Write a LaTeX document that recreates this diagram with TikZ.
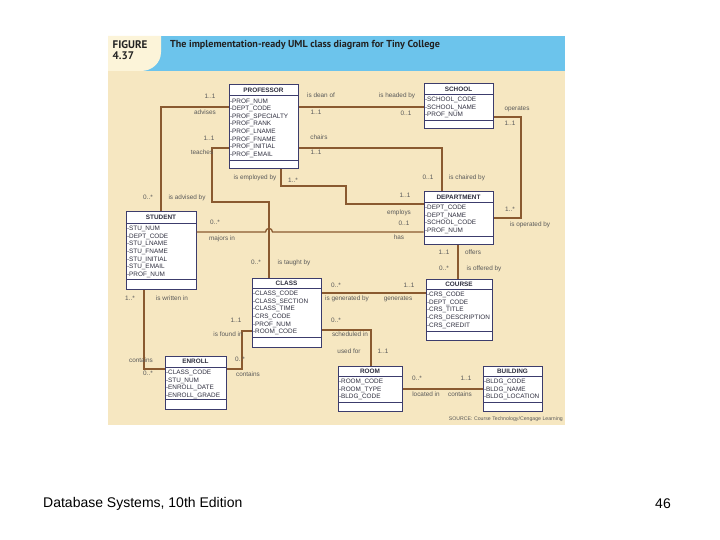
\documentclass[tikz,border=0pt]{standalone}
\usepackage{fontspec}
\setmainfont{Liberation Sans}
\newfontfamily\headfont{PT Sans}
\usetikzlibrary{fit}
\definecolor{bgbeige}{HTML}{F6E7C1}
\definecolor{hdblue}{HTML}{6CC4EC}
\definecolor{hdcream}{HTML}{FCF4D9}
\definecolor{connbrown}{HTML}{8A5A30}
\definecolor{boxnavy}{HTML}{3C3C6C}
\definecolor{attrtext}{HTML}{2E2E3E}
\definecolor{labtext}{HTML}{5A5A5A}
\definecolor{headtext}{HTML}{222222}
\tikzset{
  classbox/.style={draw=boxnavy, line width=1pt, fill=white, inner sep=0pt},
  boxrule/.style={draw=boxnavy, line width=0.9pt},
  classtitle/.style={font=\fontsize{6.4}{7}\selectfont\bfseries, text=attrtext, inner sep=0pt},
  classattr/.style={font=\fontsize{6.4}{7.6}\selectfont, text=attrtext, inner sep=0pt, anchor=base west},
  conn/.style={draw=connbrown, line width=1.3pt},
  lab/.style={font=\fontsize{6.4}{7}\selectfont, text=labtext, inner sep=0pt, text height=4.6pt, text depth=0pt},
}
% #1 name, #2 left, #3 top, #4 right, #5 title rule, #6 attribute rule, #7 bottom, #8 title, #9 attributes
\newcommand\umlclass[9]{%
  \node[classbox, fit={(#2,#3) (#4,#7)}] (#1) {};
  \draw[boxrule] (#2,#5) -- (#4,#5);
  \draw[boxrule] (#2,#6) -- (#4,#6);
  \node[classtitle] (#1-t) at ({(#2+#4)/2},{(#3+#5)/2}) {#8};
  \foreach \attr [count=\k] in {#9} {
    \node[classattr] (#1-a\k) at ({#2+0.8},{#5+7.55+(\k-1)*7.65}) {\attr};
  }%
}
\begin{document}
\begin{tikzpicture}[x=1pt,y=-1pt]
\useasboundingbox[fill=white] (0,0) rectangle (720,540);
% figure panel
\fill[bgbeige] (108,71) rectangle (565,425);
\fill[hdblue] (108,36) rectangle (565,71);
\fill[hdcream] (108,36) -- (161,36) -- (161,52) .. controls (161,63) and (152,71) .. (141,71) -- (108,71) -- cycle;
\node[anchor=west, inner sep=0pt, text=headtext, font=\headfont\bfseries\fontsize{11}{12}\selectfont] (figlab) at (112.5,44.5) {FIGURE};
\node[anchor=west, inner sep=0pt, text=headtext, font=\headfont\bfseries\fontsize{11}{12}\selectfont] (fignum) at (112.5,56) {4.37};
\node[anchor=west, inner sep=0pt, text=headtext, font=\headfont\bfseries\fontsize{10.1}{12}\selectfont] (title) at (170,45) {The implementation-ready UML class diagram for Tiny College};

% classes
\umlclass{prof}{229}{85}{298}{95.5}{160}{169}{PROFESSOR}{-PROF\_NUM,-DEPT\_CODE,-PROF\_SPECIALTY,-PROF\_RANK,-PROF\_LNAME,-PROF\_FNAME,-PROF\_INITIAL,-PROF\_EMAIL}
\umlclass{school}{424}{84}{493}{94}{120}{129}{SCHOOL}{-SCHOOL\_CODE,-SCHOOL\_NAME,-PROF\_NUM}
\umlclass{dept}{424}{192}{493}{202}{236}{244}{DEPARTMENT}{-DEPT\_CODE,-DEPT\_NAME,-SCHOOL\_CODE,-PROF\_NUM}
\umlclass{stud}{126}{212}{196}{223}{279}{289}{STUDENT}{-STU\_NUM,-DEPT\_CODE,-STU\_LNAME,-STU\_FNAME,-STU\_INITIAL,-STU\_EMAIL,-PROF\_NUM}
\umlclass{class}{252}{278}{321}{288}{337}{347}{CLASS}{-CLASS\_CODE,-CLASS\_SECTION,-CLASS\_TIME,-CRS\_CODE,-PROF\_NUM,-ROOM\_CODE}
\umlclass{course}{426}{279}{492}{289}{331}{340}{COURSE}{-CRS\_CODE,-DEPT\_CODE,-CRS\_TITLE,-CRS\_DESCRIPTION,-CRS\_CREDIT}
\umlclass{enroll}{165}{356}{226}{367}{399}{409}{ENROLL}{-CLASS\_CODE,-STU\_NUM,-ENROLL\_DATE,-ENROLL\_GRADE}
\umlclass{room}{338}{366}{402}{376}{402}{411}{ROOM}{-ROOM\_CODE,-ROOM\_TYPE,-BLDG\_CODE}
\umlclass{bldg}{483}{366}{542}{376}{402}{411}{BUILDING}{-BLDG\_CODE,-BLDG\_NAME,-BLDG\_LOCATION}

% connectors
\coordinate (advA) at (161,107);
\draw[conn] (prof.west |- advA) -- (advA) -- (stud.north -| advA);
\coordinate (tchA) at (212,148);
\coordinate (tchB) at (212,202);
\coordinate (tchC) at (269,202);
\draw[conn] (prof.west |- tchA) -- (tchA) -- (tchB) -- (tchC) -- (class.north -| tchC);
\coordinate (deanY) at (0,107);
\draw[conn] (prof.east |- deanY) -- (school.west |- deanY);
\coordinate (chA) at (442,148);
\draw[conn] (prof.east |- chA) -- (chA) -- (dept.north -| chA);
\coordinate (opA) at (521,117);
\coordinate (opB) at (521,218);
\draw[conn] (school.east |- opA) -- (opA) -- (opB) -- (dept.east |- opB);
\coordinate (emA) at (281,186);
\coordinate (emB) at (346,186);
\coordinate (emC) at (346,204);
\draw[conn] (prof.south -| emA) -- (emA) -- (emB) -- (emC) -- (dept.west |- emC);
\coordinate (mjA) at (265.5,232);
\coordinate (mjB) at (272.5,232);
\draw[conn] (stud.east |- mjA) -- (mjA) .. controls +(0,-4.7) and +(0,-4.7) .. (mjB) -- (dept.west |- mjB);
\coordinate (genY) at (0,293);
\draw[conn] (class.east |- genY) -- (course.west |- genY);
\coordinate (offX) at (458,0);
\draw[conn] (dept.south -| offX) -- (course.north -| offX);
\coordinate (schA) at (371,330);
\draw[conn] (class.east |- schA) -- (schA) -- (room.north -| schA);
\coordinate (locY) at (0,389);
\draw[conn] (room.east |- locY) -- (bldg.west |- locY);
\coordinate (wrA) at (144,369);
\draw[conn] (stud.south -| wrA) -- (wrA) -- (enroll.west |- wrA);
\coordinate (fdA) at (242,331);
\coordinate (fdB) at (242,369);
\draw[conn] (class.west |- fdA) -- (fdA) -- (fdB) -- (enroll.east |- fdB);

% labels
\node[lab] (l1) at (210,96) {1..1};
\node[lab] (l2) at (205,112) {advises};
\node[lab] (l3) at (321,95) {is dean of};
\node[lab] (l4) at (316,112) {1..1};
\node[lab] (l5) at (397,95) {is headed by};
\node[lab] (l6) at (406,113) {0..1};
\node[lab] (l7) at (209,138) {1..1};
\node[lab] (l8) at (202,152) {teaches};
\node[lab] (l9) at (319,137) {chairs};
\node[lab] (l10) at (316,152) {1..1};
\node[lab] (l11) at (517,108) {operates};
\node[lab] (l12) at (510,123) {1..1};
\node[lab] (l13) at (255,177) {is employed by};
\node[lab] (l14) at (293,180) {1..*};
\node[lab] (l15) at (148,197) {0..*};
\node[lab] (l16) at (187,197) {is advised by};
\node[lab] (l17) at (428,177) {0..1};
\node[lab] (l18) at (467,177) {is chaired by};
\node[lab] (l19) at (405,195) {1..1};
\node[lab] (l20) at (399,212) {employs};
\node[lab] (l21) at (404,223) {0..1};
\node[lab] (l22) at (399,237) {has};
\node[lab] (l23) at (510,209) {1..*};
\node[lab] (l24) at (530,224) {is operated by};
\node[lab] (l25) at (215,222) {0..*};
\node[lab] (l26) at (222,238) {majors in};
\node[lab] (l27) at (256,262) {0..*};
\node[lab] (l28) at (294,262) {is taught by};
\node[lab] (l29) at (444,252) {1..1};
\node[lab] (l30) at (473,252) {offers};
\node[lab] (l31) at (444,268) {0..*};
\node[lab] (l32) at (484,268) {is offered by};
\node[lab] (l33) at (336,285) {0..*};
\node[lab] (l34) at (347,298) {is generated by};
\node[lab] (l35) at (409,285) {1..1};
\node[lab] (l36) at (398,298) {generates};
\node[lab] (l37) at (130,298) {1..*};
\node[lab] (l38) at (172,298) {is written in};
\node[lab] (l39) at (236,320) {1..1};
\node[lab] (l40) at (228,334) {is found in};
\node[lab] (l41) at (336,320) {0..*};
\node[lab] (l42) at (350,334) {scheduled in};
\node[lab] (l43) at (349,351) {used for};
\node[lab] (l44) at (383,351) {1..1};
\node[lab] (l45) at (141,360) {contains};
\node[lab] (l46) at (148,373) {0..*};
\node[lab] (l47) at (240,359) {0..*};
\node[lab] (l48) at (248,374) {contains};
\node[lab] (l49) at (417,378) {0..*};
\node[lab] (l50) at (466,378) {1..1};
\node[lab] (l51) at (426,394) {located in};
\node[lab] (l52) at (460,394) {contains};
\node[anchor=east, inner sep=0pt, text=labtext, font=\fontsize{5.2}{6}\selectfont] (src) at (563,419) {SOURCE: Course Technology/Cengage Learning};

% footer
\node[anchor=west, inner sep=0pt, font=\fontsize{14}{16}\selectfont] (foot) at (43,504) {Database Systems, 10th Edition};
\node[anchor=east, inner sep=0pt, font=\fontsize{14}{16}\selectfont] (page) at (671,504) {46};
\end{tikzpicture}
\end{document}
